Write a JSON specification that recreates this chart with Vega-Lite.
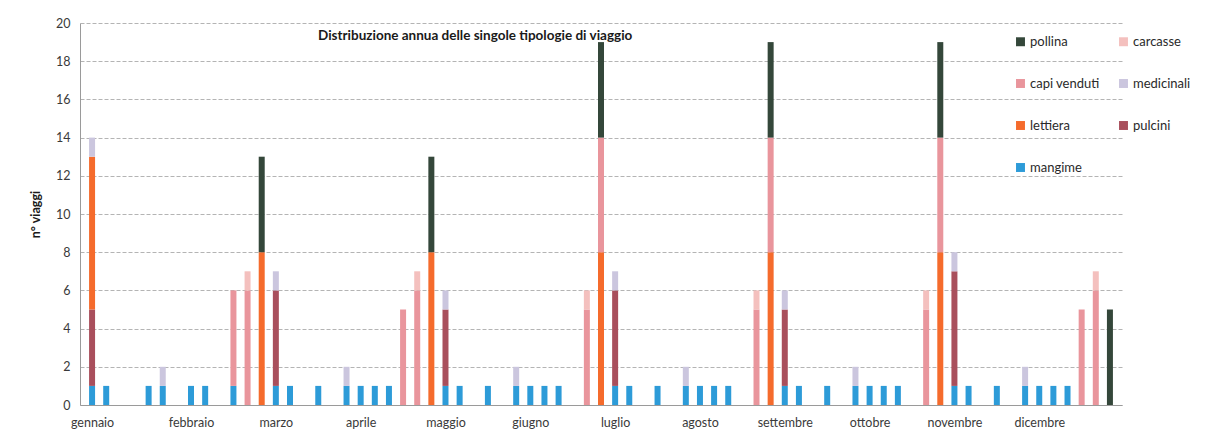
{
  "$schema": "https://vega.github.io/schema/vega-lite/v6.json",
  "width": 1042,
  "height": 382,
  "autosize": {"type": "none"},
  "padding": {"left": 80, "top": 23, "right": 92, "bottom": 37},
  "background": "white",
  "title": {
    "text": "Distribuzione annua delle singole tipologie di viaggio",
    "frame": "group",
    "anchor": "start",
    "dx": 238,
    "offset": -25,
    "font": "Lato",
    "fontSize": 13.5,
    "fontWeight": "bold",
    "color": "#1a1a1a"
  },
  "datasets": {
    "tipologie": [
      {"tipo": "mangime", "livello": 1},
      {"tipo": "pulcini", "livello": 2},
      {"tipo": "lettiera", "livello": 3},
      {"tipo": "medicinali", "livello": 4},
      {"tipo": "capi venduti", "livello": 5},
      {"tipo": "carcasse", "livello": 6},
      {"tipo": "pollina", "livello": 7}
    ]
  },
  "data": {
    "values": [
      {"periodo": 0, "tipo": "mangime", "n": 1},
      {"periodo": 0, "tipo": "pulcini", "n": 4},
      {"periodo": 0, "tipo": "lettiera", "n": 8},
      {"periodo": 0, "tipo": "medicinali", "n": 1},
      {"periodo": 1, "tipo": "mangime", "n": 1},
      {"periodo": 4, "tipo": "mangime", "n": 1},
      {"periodo": 5, "tipo": "mangime", "n": 1},
      {"periodo": 5, "tipo": "medicinali", "n": 1},
      {"periodo": 7, "tipo": "mangime", "n": 1},
      {"periodo": 8, "tipo": "mangime", "n": 1},
      {"periodo": 10, "tipo": "mangime", "n": 1},
      {"periodo": 10, "tipo": "capi venduti", "n": 5},
      {"periodo": 11, "tipo": "capi venduti", "n": 6},
      {"periodo": 11, "tipo": "carcasse", "n": 1},
      {"periodo": 12, "tipo": "lettiera", "n": 8},
      {"periodo": 12, "tipo": "pollina", "n": 5},
      {"periodo": 13, "tipo": "mangime", "n": 1},
      {"periodo": 13, "tipo": "pulcini", "n": 5},
      {"periodo": 13, "tipo": "medicinali", "n": 1},
      {"periodo": 14, "tipo": "mangime", "n": 1},
      {"periodo": 16, "tipo": "mangime", "n": 1},
      {"periodo": 18, "tipo": "mangime", "n": 1},
      {"periodo": 18, "tipo": "medicinali", "n": 1},
      {"periodo": 19, "tipo": "mangime", "n": 1},
      {"periodo": 20, "tipo": "mangime", "n": 1},
      {"periodo": 21, "tipo": "mangime", "n": 1},
      {"periodo": 22, "tipo": "capi venduti", "n": 5},
      {"periodo": 23, "tipo": "capi venduti", "n": 6},
      {"periodo": 23, "tipo": "carcasse", "n": 1},
      {"periodo": 24, "tipo": "lettiera", "n": 8},
      {"periodo": 24, "tipo": "pollina", "n": 5},
      {"periodo": 25, "tipo": "mangime", "n": 1},
      {"periodo": 25, "tipo": "pulcini", "n": 4},
      {"periodo": 25, "tipo": "medicinali", "n": 1},
      {"periodo": 26, "tipo": "mangime", "n": 1},
      {"periodo": 28, "tipo": "mangime", "n": 1},
      {"periodo": 30, "tipo": "mangime", "n": 1},
      {"periodo": 30, "tipo": "medicinali", "n": 1},
      {"periodo": 31, "tipo": "mangime", "n": 1},
      {"periodo": 32, "tipo": "mangime", "n": 1},
      {"periodo": 33, "tipo": "mangime", "n": 1},
      {"periodo": 35, "tipo": "capi venduti", "n": 5},
      {"periodo": 35, "tipo": "carcasse", "n": 1},
      {"periodo": 36, "tipo": "lettiera", "n": 8},
      {"periodo": 36, "tipo": "capi venduti", "n": 6},
      {"periodo": 36, "tipo": "pollina", "n": 5},
      {"periodo": 37, "tipo": "mangime", "n": 1},
      {"periodo": 37, "tipo": "pulcini", "n": 5},
      {"periodo": 37, "tipo": "medicinali", "n": 1},
      {"periodo": 38, "tipo": "mangime", "n": 1},
      {"periodo": 40, "tipo": "mangime", "n": 1},
      {"periodo": 42, "tipo": "mangime", "n": 1},
      {"periodo": 42, "tipo": "medicinali", "n": 1},
      {"periodo": 43, "tipo": "mangime", "n": 1},
      {"periodo": 44, "tipo": "mangime", "n": 1},
      {"periodo": 45, "tipo": "mangime", "n": 1},
      {"periodo": 47, "tipo": "capi venduti", "n": 5},
      {"periodo": 47, "tipo": "carcasse", "n": 1},
      {"periodo": 48, "tipo": "lettiera", "n": 8},
      {"periodo": 48, "tipo": "capi venduti", "n": 6},
      {"periodo": 48, "tipo": "pollina", "n": 5},
      {"periodo": 49, "tipo": "mangime", "n": 1},
      {"periodo": 49, "tipo": "pulcini", "n": 4},
      {"periodo": 49, "tipo": "medicinali", "n": 1},
      {"periodo": 50, "tipo": "mangime", "n": 1},
      {"periodo": 52, "tipo": "mangime", "n": 1},
      {"periodo": 54, "tipo": "mangime", "n": 1},
      {"periodo": 54, "tipo": "medicinali", "n": 1},
      {"periodo": 55, "tipo": "mangime", "n": 1},
      {"periodo": 56, "tipo": "mangime", "n": 1},
      {"periodo": 57, "tipo": "mangime", "n": 1},
      {"periodo": 59, "tipo": "capi venduti", "n": 5},
      {"periodo": 59, "tipo": "carcasse", "n": 1},
      {"periodo": 60, "tipo": "lettiera", "n": 8},
      {"periodo": 60, "tipo": "capi venduti", "n": 6},
      {"periodo": 60, "tipo": "pollina", "n": 5},
      {"periodo": 61, "tipo": "mangime", "n": 1},
      {"periodo": 61, "tipo": "pulcini", "n": 6},
      {"periodo": 61, "tipo": "medicinali", "n": 1},
      {"periodo": 62, "tipo": "mangime", "n": 1},
      {"periodo": 64, "tipo": "mangime", "n": 1},
      {"periodo": 66, "tipo": "mangime", "n": 1},
      {"periodo": 66, "tipo": "medicinali", "n": 1},
      {"periodo": 67, "tipo": "mangime", "n": 1},
      {"periodo": 68, "tipo": "mangime", "n": 1},
      {"periodo": 69, "tipo": "mangime", "n": 1},
      {"periodo": 70, "tipo": "capi venduti", "n": 5},
      {"periodo": 71, "tipo": "capi venduti", "n": 6},
      {"periodo": 71, "tipo": "carcasse", "n": 1},
      {"periodo": 72, "tipo": "pollina", "n": 5}
    ]
  },
  "transform": [
    {"lookup": "tipo", "from": {"data": {"name": "tipologie"}, "key": "tipo", "fields": ["livello"]}}
  ],
  "mark": {"type": "bar", "size": 6},
  "encoding": {
    "x": {
      "field": "periodo",
      "type": "quantitative",
      "scale": {"domain": [-0.5, 72.5], "nice": false, "zero": false},
      "axis": {
        "title": null,
        "values": [0, 7, 13, 19, 25, 31, 37, 43, 49, 55, 61, 67],
        "labelExpr": "['gennaio','febbraio','marzo','aprile','maggio','giugno','luglio','agosto','settembre','ottobre','novembre','dicembre'][indexof([0,7,13,19,25,31,37,43,49,55,61,67], datum.value)]",
        "grid": false,
        "ticks": false,
        "domainColor": "#9a9a9a",
        "labelPadding": 11,
        "labelFont": "Lato",
        "labelFontSize": 12.5,
        "labelColor": "#3a3a3a",
        "labelOverlap": false,
        "labelFlush": false
      }
    },
    "y": {
      "field": "n",
      "type": "quantitative",
      "stack": "zero",
      "scale": {"domain": [0, 20], "nice": false},
      "axis": {
        "title": "n° viaggi",
        "values": [0, 2, 4, 6, 8, 10, 12, 14, 16, 18, 20],
        "grid": true,
        "gridColor": "#b4b4b4",
        "gridDash": [4, 2],
        "ticks": false,
        "domainColor": "#9a9a9a",
        "labelPadding": 10,
        "labelFont": "Lato",
        "labelFontSize": 12.5,
        "labelColor": "#3a3a3a",
        "titleFont": "Lato",
        "titleFontSize": 12.5,
        "titleFontWeight": "bold",
        "titleColor": "#1a1a1a",
        "titlePadding": 13
      }
    },
    "order": {"field": "livello", "type": "quantitative", "sort": "ascending"},
    "color": {
      "field": "tipo",
      "type": "nominal",
      "scale": {
        "domain": ["pollina", "capi venduti", "lettiera", "mangime", "carcasse", "medicinali", "pulcini"],
        "range": ["#34473a", "#e9959c", "#f56b2c", "#2d9bd8", "#f4c0be", "#cbc6de", "#a94f5c"]
      },
      "legend": {
        "title": null,
        "orient": "none",
        "legendX": 934,
        "legendY": 12,
        "columns": 2,
        "symbolType": "square",
        "symbolSize": 80,
        "symbolStrokeWidth": 0,
        "rowPadding": 28,
        "columnPadding": 17,
        "labelFont": "Lato",
        "labelFontSize": 13,
        "labelColor": "#2a2a2a",
        "labelOffset": 3
      }
    }
  },
  "config": {
    "view": {"stroke": null}
  }
}
